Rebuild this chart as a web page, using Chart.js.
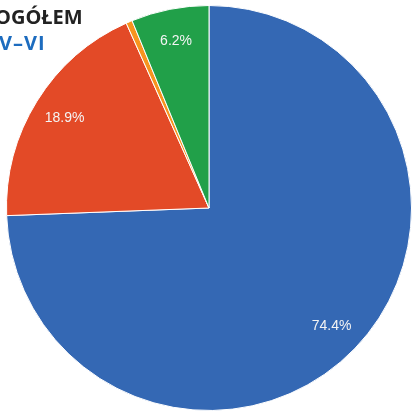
<!DOCTYPE html>
<html>
<head>
<meta charset="utf-8">
<script src="https://cdn.jsdelivr.net/npm/chart.js@4/dist/chart.umd.min.js"></script>
<style>
  html, body { margin: 0; padding: 0; background: #fff; }
  #wrap { position: relative; width: 412px; height: 414px; overflow: hidden; }
  #c { position: absolute; left: 0; top: 0; }
  .t { position: absolute; font-family: "Open Sans", "Noto Sans", sans-serif; font-weight: 700; font-size: 20px; white-space: nowrap; }
  #t1 { left: -5px; top: 3px; color: #222; }
  #t2 { left: -1px; top: 29px; color: #1d6cbf; letter-spacing: 1px; }
</style>
</head>
<body>
<div id="wrap">
  <canvas id="c" width="412" height="414"></canvas>
  <div class="t" id="t1">OGÓŁEM</div>
  <div class="t" id="t2">V–VI</div>
</div>
<script>
const labels = ["Blue", "Red", "Orange", "Green"];
const values = [74.4, 18.9, 0.5, 6.2];
const colors = ["#3468b4", "#e34a27", "#f7941e", "#21a049"];

// percent labels inside the slices (skip the tiny one)
const sliceLabels = {
  id: "sliceLabels",
  afterDatasetsDraw(chart) {
    const ctx = chart.ctx;
    const meta = chart.getDatasetMeta(0);
    ctx.save();
    ctx.fillStyle = "#f4f4f4";
    ctx.font = "14px 'Liberation Sans', Arial, sans-serif";
    ctx.textAlign = "center";
    ctx.textBaseline = "middle";
    meta.data.forEach((arc, i) => {
      if (values[i] < 2) return;
      const p = arc.getProps(["x", "y", "startAngle", "endAngle", "outerRadius"], true);
      const a = (p.startAngle + p.endAngle) / 2;
      const r = p.outerRadius * 0.84;
      ctx.fillText(values[i].toFixed(1) + "%", p.x + Math.cos(a) * r, p.y + Math.sin(a) * r);
    });
    ctx.restore();
  }
};

new Chart(document.getElementById("c").getContext("2d"), {
  type: "pie",
  data: {
    labels: labels,
    datasets: [{
      data: values,
      backgroundColor: colors,
      borderColor: "#ffffff",
      borderWidth: 1
    }]
  },
  options: {
    responsive: false,
    animation: false,
    layout: { padding: { left: 6, right: 0, top: 5, bottom: 3 } },
    plugins: {
      legend: { display: false },
      tooltip: { enabled: false }
    }
  },
  plugins: [sliceLabels]
});
</script>
</body>
</html>
